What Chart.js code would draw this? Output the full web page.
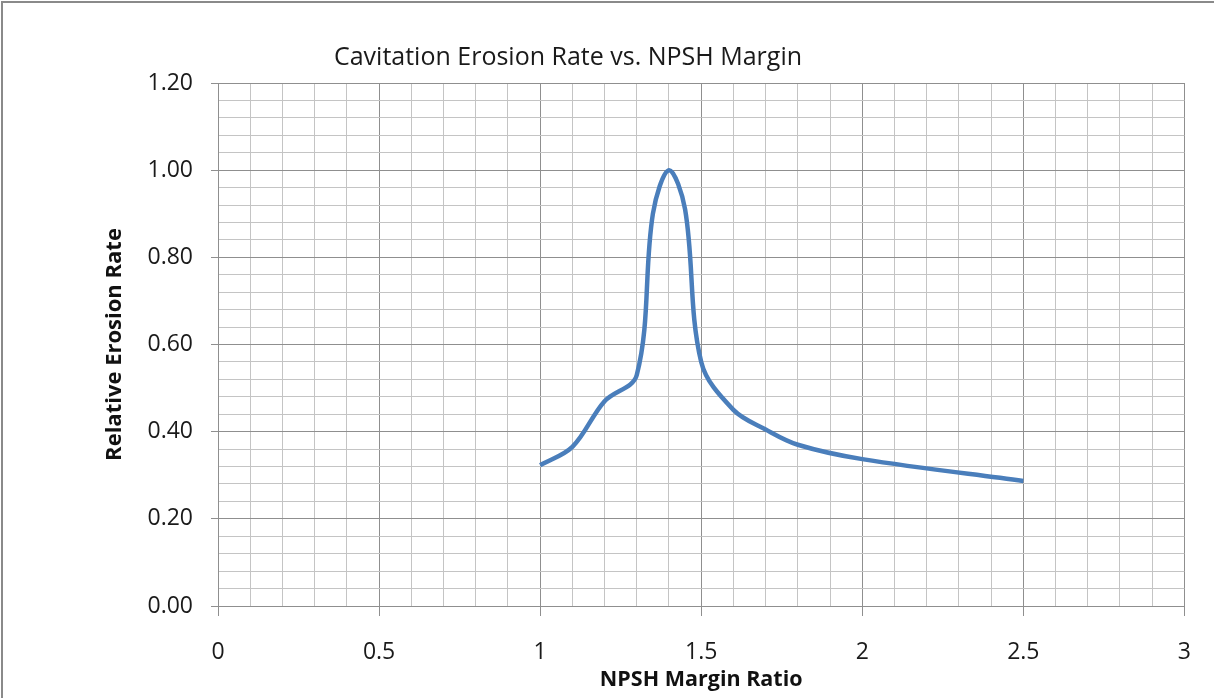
<!DOCTYPE html>
<html>
<head>
<meta charset="utf-8">
<script src="https://cdn.jsdelivr.net/npm/chart.js@4.4.1/dist/chart.umd.min.js"></script>
<style>
  body { margin: 0; background: #fff; }
  canvas { display: block; }
</style>
</head>
<body>
<canvas id="myChart" width="1214" height="698"></canvas>
<script>
// NPSH margin ratio (x) and relative erosion rate (y)
const npshRatio = [1.0, 1.1, 1.2, 1.3, 1.35, 1.4, 1.45, 1.5, 1.6, 1.7, 1.8, 2.0, 2.5];
const erosionRate = [0.323, 0.365, 0.47, 0.53, 0.90, 1.0, 0.91, 0.56, 0.45, 0.405, 0.37, 0.337, 0.287];

const chartTitle = 'Cavitation Erosion Rate vs. NPSH Margin';
const xTitle = 'NPSH Margin Ratio';
const yTitle = 'Relative Erosion Rate';

const fuente = "'Open Sans', 'Noto Sans', sans-serif";
const minorGrid = '#c4c4c4';
const majorGrid = '#8f8f8f';

function inicio(){
    var ctx = document.getElementById('myChart').getContext('2d');

    var puntos = npshRatio.map((x, i) => ({x: x, y: erosionRate[i]}));

    var esMayorX = v => Math.abs(v * 2 - Math.round(v * 2)) < 1e-6;
    var esMayorY = v => Math.abs(v * 5 - Math.round(v * 5)) < 1e-6;

    // title sits left of centre in the original, plus the outer frame
    const decorado = {
        id: 'decorado',
        beforeDraw(chart) {
            const c = chart.ctx;
            c.save();
            c.fillStyle = '#fff';
            c.fillRect(0, 0, chart.width, chart.height);
            c.strokeStyle = '#8a8a8a';
            c.lineWidth = 2;
            c.beginPath();
            c.moveTo(2, chart.height);
            c.lineTo(2, 2);
            c.lineTo(chart.width, 2);
            c.stroke();
            c.fillStyle = '#1a1a1a';
            c.font = "25px " + fuente;
            c.textAlign = 'center';
            c.textBaseline = 'middle';
            c.fillText(chartTitle, 568, 58);
            c.restore();
        }
    };

    const myChart = new Chart(ctx, {
        type: 'scatter',
        data: {
            datasets: [{
                label: yTitle,
                data: puntos,
                showLine: true,
                borderColor: '#4a7ebb',
                backgroundColor: '#4a7ebb',
                borderWidth: 4.5,
                pointRadius: 0,
                tension: 0.35,
                fill: false
            }]
        },
        plugins: [decorado],
        options: {
            responsive: false,
            animation: false,
            layout: {
                padding: {top: 83, right: 27, left: 0, bottom: 0}
            },
            plugins: {
                legend: {display: false},
                tooltip: {enabled: false}
            },
            scales: {
                x: {
                    type: 'linear',
                    min: 0,
                    max: 3,
                    afterFit: s => { s.height = 92; },
                    border: {color: majorGrid, width: 1},
                    grid: {
                        color: c => esMayorX(c.tick.value) ? majorGrid : minorGrid,
                        tickColor: c => esMayorX(c.tick.value) ? majorGrid : 'rgba(0,0,0,0)',
                        tickLength: 10
                    },
                    ticks: {
                        stepSize: 0.1,
                        autoSkip: false,
                        maxRotation: 0,
                        padding: 23,
                        color: '#1a1a1a',
                        font: {family: fuente, size: 23},
                        callback: v => esMayorX(v) ? String(Math.round(v * 2) / 2) : ''
                    },
                    title: {
                        display: true,
                        text: xTitle,
                        color: '#111',
                        font: {family: fuente, size: 21.5, weight: 'bold'},
                        padding: {top: 0, bottom: 5}
                    }
                },
                y: {
                    type: 'linear',
                    min: 0,
                    max: 1.2,
                    afterFit: s => { s.width = 218; },
                    border: {color: majorGrid, width: 1},
                    grid: {
                        color: c => esMayorY(c.tick.value) ? majorGrid : minorGrid,
                        tickColor: c => esMayorY(c.tick.value) ? majorGrid : 'rgba(0,0,0,0)',
                        tickLength: 7
                    },
                    ticks: {
                        stepSize: 0.04,
                        autoSkip: false,
                        padding: 18,
                        color: '#1a1a1a',
                        font: {family: fuente, size: 23},
                        callback: v => esMayorY(v) ? (Math.round(v * 5) / 5).toFixed(2) : ''
                    },
                    title: {
                        display: true,
                        text: yTitle,
                        color: '#111',
                        font: {family: fuente, size: 22, weight: 'bold'},
                        padding: {top: 102, bottom: 0}
                    }
                }
            }
        }
    });
}
window.onload = inicio
</script>
</body>
</html>
